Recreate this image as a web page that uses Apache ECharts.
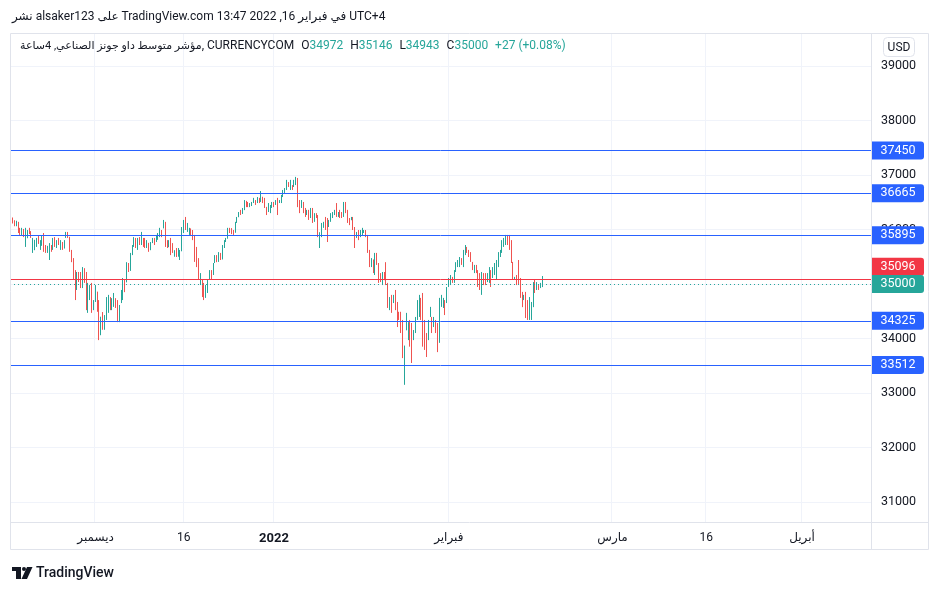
<!DOCTYPE html>
<html><head><meta charset="utf-8">
<script src="https://cdn.jsdelivr.net/npm/echarts@6/dist/echarts.min.js"></script>
<style>html,body{margin:0;padding:0;background:#fff;}#c{width:939px;height:592px;}</style>
</head><body><div id="c"></div>
<script>
// ---- DATA: 4h candles [open, close, low, high] ----
const barsLateNov = [
[36290,36180,36160,36310],[36190,36130,36110,36220],[36140,36080,36060,36170],[36080,36140,36060,36160],
[36130,35960,35935,36140],[35970,35910,35900,36030],[35900,36010,35880,36030],[36000,35880,35860,36010],
[35700,36000,35680,36030],[35860,35980,35840,35990],[35990,35930,35915,36030],[35930,35860,35845,35970],
[35590,35800,35570,35845],[35640,35790,35620,35810],[35700,35830,35680,35845],[35860,35750,35735,35880],
[35650,35790,35625,35805],[35720,35860,35700,35880],[35900,35620,35590,35935],[35690,35590,35570,35715],
[35590,35690,35570,35700],[35470,35730,35440,35750],[35700,35610,35590,35715],[35650,35820,35625,35845],
[35840,35700,35680,35860],[35690,35790,35660,35805],[35820,35730,35715,35845],[35650,35790,35625,35805],
[35760,35650,35625,35770],[35660,35790,35650,35805],[35860,35940,35845,35955],[35940,35860,35845,35955],
[35860,35620,35590,35865],[35620,35420,35400,35625],[35450,35110,35075,35475],[35240,34740,34705,35255],
[34900,35200,34890,35220],[35200,35060,35035,35220],[35190,34950,34925,35220],[34950,35290,34925,35310],
[35280,35040,35020,35290],[35020,34580,34520,35220],[34500,35000,34470,35020],[34740,34960,34705,34980],
[34990,34490,34470,35020],[34540,34690,34520,34705],[34690,34960,34670,34980],[34850,34510,34490,34860]
];
const barsDec = [
[34600,34050,33970,34705],[34080,34390,34060,34400],[34450,34180,34160,34485],[34180,34400,34160,34430],
[34360,34730,34340,34760],[34500,34780,34470,34800],[34740,34540,34520,34760],[34540,34720,34520,34740],
[34600,34820,34580,34835],[34720,34580,34560,34740],[34690,34330,34300,34705],[34330,34590,34300,34615],
[34660,34870,34650,34890],[34720,35090,34705,35110],[35070,34880,34850,35075],[35050,35380,35030,35400],
[35380,35240,35220,35385],[35250,35550,35240,35570],[35540,35700,35530,35715],[35690,35840,35680,35860],
[35840,35680,35660,35845],[35670,35820,35625,35845],[35830,35730,35715,35860],[35730,35930,35715,35955],
[35830,35700,35680,35845],[35820,35680,35660,35845],[35680,35790,35660,35805],[35750,35610,35590,35755],
[35630,35750,35620,35770],[35760,35830,35750,35845],[35830,35730,35715,35845],[35790,35870,35770,35900],
[35830,35920,35810,35935],[35880,36010,35860,36030],[35980,35880,35860,35990],[36030,36150,36020,36175],
[36130,35700,35680,36140],[35790,35680,35660,35805],[35680,35790,35675,35805],[35820,35560,35530,35845],
[35730,35580,35570,35750],[35580,35600,35500,35620],[35640,35510,35495,35660],[35510,35640,35500,35660],
[35460,35610,35440,35625],[35610,36020,35600,36045],[35950,36160,35935,36175],[36200,36000,35990,36230],
[35970,36100,35955,36120],[35920,36020,35900,36030],[36010,35900,35880,36020],[35960,35820,35805,35990],
[35880,35420,35405,35900],[35650,35320,35310,35680],[35440,35100,35075,35475],[35000,35190,34980,35200],
[35060,34780,34760,35075],[34980,34730,34705,35020]
];
const barsLateDec = [
[34760,34960,34745,34980],[34860,35060,34835,35075],[35080,35240,35075,35255],[35240,35090,35075,35255],
[35170,35370,35165,35385],[35400,35520,35385,35530],[35520,35420,35400,35530],[35420,35570,35405,35585],
[35560,35450,35440,35570],[35460,35700,35450,35715],[35680,35790,35660,35805],[35790,35830,35770,35845],
[35840,36010,35830,36030],[36010,35950,35935,36030],[35990,35930,35915,36025],[35960,35910,35900,35990],
[35950,36120,35940,36140],[36130,36220,36120,36230],[36230,36310,36225,36320],[36340,36280,36265,36360],
[36290,36380,36285,36395],[36370,36520,36355,36540],[36520,36420,36410,36525],[36480,36420,36410,36505],
[36420,36480,36410,36485],[36440,36490,36430,36505],[36490,36570,36485,36580],[36530,36460,36450,36540],
[36490,36580,36485,36595],[36570,36500,36485,36580],[36510,36670,36505,36705],[36590,36500,36485,36600],
[36560,36410,36395,36580],[36410,36280,36265,36415],[36330,36470,36320,36485],[36310,36430,36300,36450],
[36410,36490,36395,36505],[36490,36420,36410,36505],[36460,36530,36450,36540],[36560,36290,36265,36580],
[36490,36530,36485,36540],[36500,36620,36485,36635],[36610,36710,36595,36725],[36680,36750,36670,36760],
[36730,36890,36725,36910],[36860,36790,36780,36870],[36760,36890,36725,36910],[36800,36740,36725,36815],
[36790,36890,36780,36910],[36830,36950,36815,36965]
];
const barsJan = [
[36940,36440,36410,36945],[36450,36320,36300,36540],[36400,36520,36395,36540],[36500,36330,36300,36505],
[36390,36240,36230,36395],[36280,36340,36265,36360],[36340,36190,36175,36360],[36220,36380,36210,36395],
[36380,36140,36120,36395],[36150,36290,36140,36300],[36290,36220,36210,36300],[36240,35880,35860,36265],
[35700,35920,35660,35950],[35890,36110,35860,36120],[36040,36120,36030,36140],[36200,36000,35990,36230],
[36050,35790,35770,36210],[36060,36160,36045,36175],[36150,36280,36140,36300],[36230,36310,36210,36320],
[36280,36340,36265,36360],[36470,36260,36230,36485],[36250,36310,36230,36320],[36330,36220,36210,36360],
[36300,36230,36210,36320],[36240,36490,36230,36505],[36490,36320,36300,36505],[36340,36140,36120,36360],
[36200,36090,36080,36210],[36180,36220,36170,36230],[36220,36000,35990,36230],[36030,35680,35660,36045],
[35850,35940,35845,35955],[35950,35830,35805,35990],[35870,35970,35860,35990],[35900,35990,35890,36030],
[35950,35970,35935,35990],[35980,35880,35860,35990],[35890,35590,35570,35900],[35600,35330,35310,35625],
[35330,35450,35310,35475],[35440,35220,35200,35450],[35200,35550,35165,35570],[35550,35360,35350,35570],
[35360,35040,35020,35385],[35180,35060,35035,35200],[35000,35190,34980,35220],[35190,35080,35070,35220],
[35370,35000,34980,35400],[35010,34580,34560,35020],[34550,34740,34520,34760],[34770,34490,34470,34800],
[34680,34780,34650,34800],[34860,34540,34520,34890],[34650,34230,34210,34670],[34480,34350,34340,34490],
[34460,34120,34100,34490],[34300,33700,33640,34340],[33400,33830,33150,33870]
];
const barsFeb = [
[34180,34440,34150,34470],[34000,34280,33970,34300],[34330,33900,33850,34340],[34200,33620,33550,34285],
[34000,34140,33970,34155],[34120,34370,34100,34395],[34360,34690,34340,34705],[34420,34780,34395,34800],
[34720,34370,34340,34745],[34800,33890,33850,34835],[34320,33820,33790,34340],[34080,33690,33660,34100],
[34000,34320,33970,34340],[34410,34560,34395,34580],[34380,34120,34100,34395],[34220,34380,34210,34395],
[34320,34120,34100,34340],[34270,33780,33750,34285],[33950,34720,33920,34745],[34600,34780,34580,34800],
[34580,34720,34560,34745],[34690,34450,34430,34705],[34670,34930,34650,34945],[34960,35090,34945,35110],
[35000,35150,34980,35165],[35120,35030,35020,35130],[35030,35240,35020,35255],[35230,35380,35220,35400],
[35330,35420,35310,35440],[35330,35480,35310,35495],[35460,35360,35350,35475],[35330,35600,35310,35625],
[35550,35700,35530,35715],[35670,35580,35570,35680],[35610,35510,35495,35625],[35570,35420,35405,35585],
[35400,35270,35255,35405],[35220,35330,35200,35350],[35330,35220,35200,35350],[35240,34970,34945,35255],
[35180,34910,34890,35200],[34830,35200,34800,35220],[35180,35000,34980,35200],[35170,35000,34980,35200],
[35050,35180,35035,35200],[35030,35290,35020,35310],[35240,34960,34945,35255],[35120,35290,35110,35310],
[35180,35370,35165,35385],[35090,35420,35075,35440],[35320,35570,35310,35585],[35510,35610,35495,35625],
[35580,35790,35570,35805],[35690,35830,35680,35845],[35730,35880,35715,35900],[35880,35770,35715,35900],
[35860,35640,35625,35900],[35780,35400,35385,35805],[35400,35090,35075,35405],[35090,35120,35075,35130],
[35150,35000,34980,35165],[35420,35000,34980,35440],[35090,34760,34745,35110],[34840,34590,34575,34855],
[34720,34790,34705,34800],[34830,34400,34375,34855],[34690,34360,34340,34705],[34360,34740,34340,34760],
[34370,34650,34340,34670],[34600,35020,34575,35035],[35050,34850,34835,35075],[34900,35020,34890,35035],
[34970,34900,34890,34980],[34940,35010,34925,35020],[34972,35000,34943,35146]
];
const totalSlots = 468;                       // bar slots across the visible time range
const tickLabels = ['ديسمبر','16','2022','فبراير','مارس','16','أبريل'];
const tickSlots  = [46, 94, 143, 238, 327, 378, 430];
const priceTicks = [31000,32000,33000,34000,35000,36000,37000,38000,39000];
const yMin = 30633, yMax = 39605;
const levelLines = [37450, 36665, 35895, 34325, 33512];
const redLevel = 35096;
const lastPrice = 35000;
const ohlcNames = ['O','H','L','C'];
const ohlcValues = [34972, 35146, 34943, 35000];
const changeText = '+27 (+0.08%)';
const headerText = 'نشر alsaker123 على TradingView.com في فبراير 16, 2022 13:47 UTC+4';
const titleArabic = 'مؤشر متوسط داو جونز الصناعي, 4ساعة';
const titleExchange = ', CURRENCYCOM';

// ---- CHART ----
const UP = '#26a69a', DOWN = '#ef5350', BLUE = '#2962ff', RED = '#f23645';
const FONT = 'Roboto, "DejaVu Sans", sans-serif';
const candles = [].concat(barsLateNov, barsDec, barsLateDec, barsJan, barsFeb);
const categories = [];
for (let i = 0; i < totalSlots; i++) categories.push('s' + i);
const isTick = (i) => tickSlots.indexOf(i) >= 0;

const chart = echarts.init(document.getElementById('c'), null, {renderer: 'canvas'});
const markData = levelLines.map(v => ({yAxis: v, lineStyle: {color: BLUE, width: 1, type: 'solid'}}));
markData.push({yAxis: redLevel, lineStyle: {color: RED, width: 1, type: 'solid'}});
markData.push({yAxis: lastPrice, lineStyle: {color: UP, width: 1, type: [1, 3]}});

chart.setOption({
  animation: false,
  textStyle: {fontFamily: FONT},
  grid: {left: 10, right: 68, top: 33, bottom: 70},
  xAxis: {
    type: 'category', data: categories, boundaryGap: true,
    axisLine: {show: false}, axisTick: {show: false},
    axisLabel: {
      interval: (i) => isTick(i), margin: 10, color: '#131722', fontSize: 12, fontFamily: FONT,
      formatter: (v, i) => { const k = tickSlots.indexOf(i); if (k < 0) return ''; return tickLabels[k] === '2022' ? '{b|2022}' : tickLabels[k]; },
      rich: {b: {fontWeight: 'bold', fontSize: 13, color: '#131722', fontFamily: FONT}}
    },
    splitLine: {show: true, interval: (i) => isTick(i), lineStyle: {color: '#f0f3fa', width: 1}}
  },
  yAxis: {
    type: 'value', position: 'right', min: yMin, max: yMax,
    axisLine: {show: false},
    axisTick: {show: false, customValues: priceTicks},
    axisLabel: {customValues: priceTicks, color: '#131722', fontSize: 12.5, margin: 10, fontFamily: FONT,
      formatter: (v) => String(Math.round(v))},
    splitLine: {show: true, lineStyle: {color: '#f0f3fa', width: 1}}
  },
  series: [{
    type: 'candlestick', data: candles, barWidth: 1,
    itemStyle: {color: UP, color0: DOWN, borderColor: UP, borderColor0: DOWN, borderWidth: 1},
    markLine: {silent: true, symbol: ['none', 'none'], label: {show: false}, animation: false, data: markData}
  }]
});

const py = (v) => chart.convertToPixel({yAxisIndex: 0}, v);
const g = [];
const FR = '#e0e3eb';
g.push({type: 'rect', silent: true, z: 50, shape: {x: 10.5, y: 33.5, width: 918, height: 516}, style: {fill: 'rgba(0,0,0,0)', stroke: FR, lineWidth: 1}});
g.push({type: 'line', silent: true, z: 50, shape: {x1: 871.5, y1: 33, x2: 871.5, y2: 550}, style: {stroke: FR, lineWidth: 1}});
g.push({type: 'line', silent: true, z: 50, shape: {x1: 10, y1: 522.5, x2: 929, y2: 522.5}, style: {stroke: FR, lineWidth: 1}});
// USD box
g.push({type: 'rect', silent: true, z: 60, shape: {x: 883.5, y: 37.5, width: 31, height: 19, r: 4}, style: {fill: '#fff', stroke: FR, lineWidth: 1}});
g.push({type: 'text', silent: true, z: 61, x: 899, y: 47.5, style: {text: 'USD', font: '12px ' + FONT, fill: '#131722', align: 'center', verticalAlign: 'middle'}});
// price labels
function priceLabel(v, color, dy) {
  const y = py(v) + dy;
  g.push({type: 'rect', silent: true, z: 70, shape: {x: 872, y: y - 9, width: 52, height: 18, r: [0, 3, 3, 0]}, style: {fill: color}});
  g.push({type: 'text', silent: true, z: 71, x: 898, y: y, style: {text: String(v), font: '12.5px ' + FONT, fill: '#fff', align: 'center', verticalAlign: 'middle'}});
}
levelLines.forEach(v => priceLabel(v, BLUE, 0));
priceLabel(redLevel, RED, -12);
priceLabel(lastPrice, UP, 0);
// header
g.push({type: 'text', silent: true, z: 80, x: 12, y: 17, style: {text: headerText, font: '12px ' + FONT, fill: '#131722', verticalAlign: 'middle'}});
let rich = '{a|' + titleArabic + '}{t|' + titleExchange + '}';
ohlcNames.forEach((n, i) => { rich += '{s|}{t|' + n + '}{v|' + ohlcValues[i] + '}'; });
rich += '{s|}{v|' + changeText + '}';
g.push({type: 'text', silent: true, z: 80, x: 20, y: 46, style: {
  text: rich, verticalAlign: 'middle',
  rich: {a: {fontSize: 11, fontFamily: FONT, fill: '#131722'}, t: {fontSize: 12, fontFamily: FONT, fill: '#131722'},
         v: {fontSize: 12, fontFamily: FONT, fill: UP}, s: {width: 7}}
}});
// TradingView logo
g.push({type: 'rect', silent: true, shape: {x: 12, y: 567, width: 9, height: 4}, style: {fill: '#131722'}});
g.push({type: 'rect', silent: true, shape: {x: 16, y: 567, width: 5, height: 12}, style: {fill: '#131722'}});
g.push({type: 'circle', silent: true, shape: {cx: 24, cy: 569, r: 2}, style: {fill: '#131722'}});
g.push({type: 'polygon', silent: true, shape: {points: [[27, 567], [32.5, 567], [27, 579], [21.5, 579]]}, style: {fill: '#131722'}});
g.push({type: 'text', silent: true, x: 36, y: 573.5, style: {text: 'TradingView', font: '500 14px ' + FONT, fill: '#131722', verticalAlign: 'middle'}});
chart.setOption({graphic: g});
</script>
</body></html>
